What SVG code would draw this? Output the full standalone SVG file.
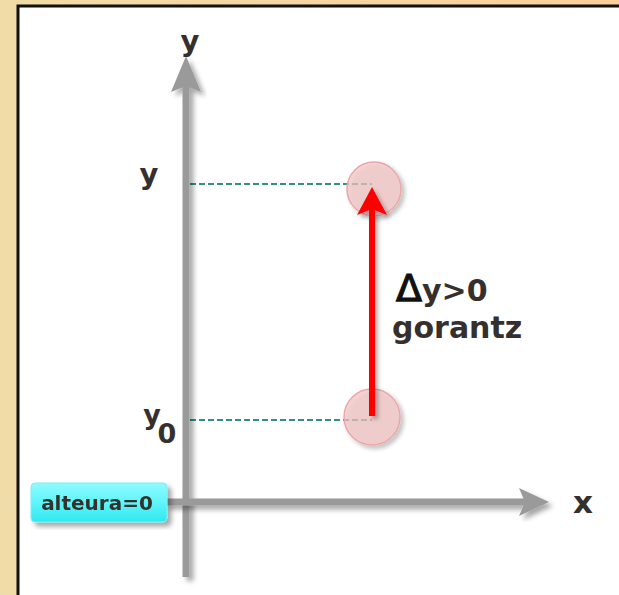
<svg xmlns="http://www.w3.org/2000/svg" width="619" height="595" viewBox="0 0 619 595">
<defs>
<linearGradient id="bg" x1="0" y1="0" x2="1" y2="0">
<stop offset="0" stop-color="#f0dca8"/>
<stop offset="1" stop-color="#fbcf9b"/>
</linearGradient>
<linearGradient id="cy" x1="0" y1="0" x2="0" y2="1">
<stop offset="0" stop-color="#8ffbff"/>
<stop offset="0.5" stop-color="#5ef5fa"/>
<stop offset="1" stop-color="#2fe8ef"/>
</linearGradient>
<filter id="sh" x="-20%" y="-20%" width="140%" height="140%">
<feDropShadow dx="4" dy="4" stdDeviation="2.5" flood-color="#000" flood-opacity="0.35"/>
</filter>
<filter id="sh2" x="-20%" y="-20%" width="140%" height="140%">
<feDropShadow dx="3" dy="3" stdDeviation="2" flood-color="#000" flood-opacity="0.3"/>
</filter>
<style>
.lab{font-family:"DejaVu Sans",Verdana,sans-serif;font-weight:bold;fill:#35302e}
.dash{stroke:#2f8f8a;stroke-width:2;stroke-dasharray:6 3;fill:none}
.dot{fill:#f4c4c4;fill-opacity:0.7;stroke:#eaa8a8;stroke-width:1.5}
.axis{stroke:#9a9a9a;stroke-width:7;fill:none}
</style>
</defs>
<rect x="0" y="0" width="619" height="595" fill="url(#bg)"/>
<rect x="18" y="6" width="620" height="610" fill="#ffffff" stroke="#111" stroke-width="3"/>

<g id="connectors">
<line class="dash" x1="190" y1="184" x2="372" y2="184"/>
<line class="dash" x1="190" y1="420" x2="372" y2="420"/>
</g>

<g id="axis-y" filter="url(#sh)">
<line class="axis" x1="186" y1="577" x2="186" y2="80"/>
<polygon points="186,56 201,92 186,86 171,92" fill="#9a9a9a"/>
</g>
<g id="axis-x" filter="url(#sh)">
<line class="axis" x1="165" y1="502" x2="530" y2="502"/>
<polygon points="549,502 519,488 525,502 519,516" fill="#9a9a9a"/>
</g>

<g id="point-top" filter="url(#sh2)">
<circle class="dot" cx="374" cy="189" r="27"/>
</g>
<g id="point-bottom" filter="url(#sh2)">
<circle class="dot" cx="372" cy="417" r="28"/>
</g>

<g id="delta-arrow" filter="url(#sh2)">
<line x1="372" y1="416" x2="372" y2="205" stroke="#ff0000" stroke-width="6"/>
<polygon points="372,187 387,215 372,209 357,215" fill="#ff0000"/>
</g>

<g id="labels">
<text class="lab" x="190" y="51" font-size="29" text-anchor="middle">y</text>
<text class="lab" x="149" y="184" font-size="29" text-anchor="middle">y</text>
<text class="lab" x="152" y="424" font-size="27" text-anchor="middle">y</text>
<text class="lab" x="167" y="443" font-size="27" text-anchor="middle">0</text>
<text class="lab" x="583" y="513" font-size="31" text-anchor="middle">x</text>
<text class="lab" x="396" y="301" font-size="30"><tspan fill="#111" font-weight="normal" stroke="#111" stroke-width="1.2" font-size="38">Δ</tspan>y&gt;0</text>
<text class="lab" x="392" y="338" font-size="30">gorantz</text>
</g>

<g id="alteura" filter="url(#sh)">
<rect x="31" y="483" width="136" height="39" rx="4" fill="url(#cy)" stroke="#7feef2" stroke-width="1"/>
<text class="lab" x="97" y="510" font-size="20" text-anchor="middle" fill="#1a1a1a">alteura=0</text>
</g>
</svg>
